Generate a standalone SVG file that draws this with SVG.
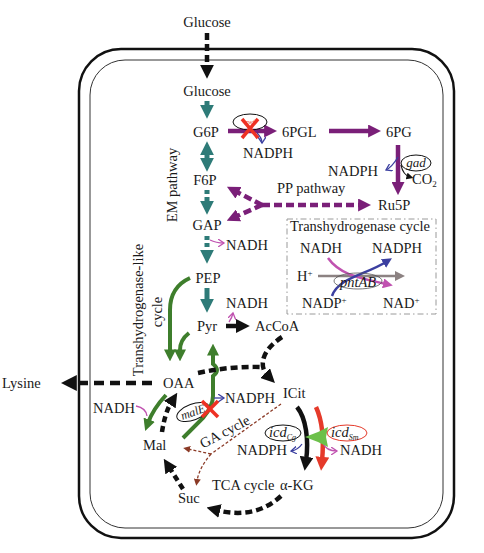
<svg xmlns="http://www.w3.org/2000/svg" width="484" height="553" viewBox="0 0 484 553">
<style>
text{font-family:"Liberation Serif","Times New Roman",serif;font-size:14.5px;fill:#1a1a1a}
.it{font-style:italic}
.mid{text-anchor:middle}
.teal{stroke:#2e7b78;stroke-width:5;fill:none}
.pur{stroke:#7a1f78;stroke-width:4.5;fill:none}
.blk{stroke:#111;stroke-width:4.5;fill:none}
.grn{stroke:#3e7e2c;stroke-width:4;fill:none}
.red{stroke:#e53a2a;stroke-width:4.5;fill:none}
.brn{stroke:#8b3a26;stroke-width:1.3;fill:none;stroke-dasharray:3,2}
.thin{stroke-width:1.3;fill:none}
.x{stroke:#ee3124;stroke-width:3.5;stroke-linecap:butt}
</style>
<defs>
<marker id="aTeal" viewBox="0 0 10 10" refX="3" refY="5" markerWidth="14" markerHeight="14" markerUnits="userSpaceOnUse" orient="auto-start-reverse"><path d="M0,0 L10,5 L0,10 z" fill="#2e7b78"/></marker>
<marker id="aPur" viewBox="0 0 10 10" refX="3" refY="5" markerWidth="13" markerHeight="13" markerUnits="userSpaceOnUse" orient="auto"><path d="M0,0 L10,5 L0,10 z" fill="#7a1f78"/></marker>
<marker id="aBlk" viewBox="0 0 10 10" refX="3" refY="5" markerWidth="14" markerHeight="14" markerUnits="userSpaceOnUse" orient="auto"><path d="M0,0 L10,5 L0,10 z" fill="#111"/></marker>
<marker id="aBlkL" viewBox="0 0 10 10" refX="3" refY="5" markerWidth="16" markerHeight="16" markerUnits="userSpaceOnUse" orient="auto"><path d="M0,0 L10,5 L0,10 z" fill="#111"/></marker>
<marker id="aGrn" viewBox="0 0 10 10" refX="3" refY="5" markerWidth="12" markerHeight="12" markerUnits="userSpaceOnUse" orient="auto"><path d="M0,0 L10,5 L0,10 z" fill="#3e7e2c"/></marker>
<marker id="aRed" viewBox="0 0 10 10" refX="3" refY="5" markerWidth="14" markerHeight="14" markerUnits="userSpaceOnUse" orient="auto"><path d="M0,0 L10,5 L0,10 z" fill="#e53a2a"/></marker>
<marker id="aBrn" viewBox="0 0 10 10" refX="3" refY="5" markerWidth="7" markerHeight="7" markerUnits="userSpaceOnUse" orient="auto"><path d="M0,0 L10,5 L0,10 z" fill="#8b3a26"/></marker>
<marker id="aGry" viewBox="0 0 10 10" refX="3" refY="5" markerWidth="10" markerHeight="10" markerUnits="userSpaceOnUse" orient="auto"><path d="M0,0 L10,5 L0,10 z" fill="#8c8282"/></marker>
<marker id="aPink" viewBox="0 0 10 10" refX="3" refY="5" markerWidth="10" markerHeight="10" markerUnits="userSpaceOnUse" orient="auto"><path d="M0,0 L10,5 L0,10 z" fill="#c052b0"/></marker>
<marker id="aBlu" viewBox="0 0 10 10" refX="3" refY="5" markerWidth="10" markerHeight="10" markerUnits="userSpaceOnUse" orient="auto"><path d="M0,0 L10,5 L0,10 z" fill="#3b3fa0"/></marker>
<marker id="aSmBlk" viewBox="0 0 10 10" refX="5" refY="5" markerWidth="7" markerHeight="7" markerUnits="userSpaceOnUse" orient="auto"><path d="M0,0 L10,5 L0,10 z" fill="#111"/></marker>
<marker id="oPink" viewBox="0 0 8 8" refX="6" refY="4" markerWidth="8" markerHeight="8" markerUnits="userSpaceOnUse" orient="auto"><path d="M0,0 L6,4 L0,8" fill="none" stroke="#c052b0" stroke-width="1.3"/></marker>
<marker id="oBlu" viewBox="0 0 8 8" refX="6" refY="4" markerWidth="8" markerHeight="8" markerUnits="userSpaceOnUse" orient="auto"><path d="M0,0 L6,4 L0,8" fill="none" stroke="#3b3fa0" stroke-width="1.3"/></marker>
</defs>
<rect width="484" height="553" fill="#fff"/>

<g id="cell">
<rect x="79" y="49" width="375" height="489" rx="42" fill="none" stroke="#111" stroke-width="2.5"/>
<rect x="90" y="60" width="353" height="468" rx="35" fill="none" stroke="#333" stroke-width="1"/>
</g>

<g id="connectors">
<line x1="207" y1="33" x2="207" y2="69" class="blk" stroke-width="5" stroke-dasharray="7,4" marker-end="url(#aBlk)"/>
<line x1="207" y1="101" x2="207" y2="109" class="teal" marker-end="url(#aTeal)"/>
<line x1="207" y1="151" x2="207" y2="162" class="teal" marker-start="url(#aTeal)" marker-end="url(#aTeal)"/>
<line x1="207" y1="190" x2="207" y2="205" class="teal" stroke-dasharray="4,3" marker-end="url(#aTeal)"/>
<line x1="207" y1="236" x2="207" y2="254" class="teal" stroke-dasharray="4,3" marker-end="url(#aTeal)"/>
<line x1="207" y1="288" x2="207" y2="303" class="teal" marker-end="url(#aTeal)"/>
<path d="M210,240 Q216,243 224,243" stroke="#c052b0" class="thin" marker-end="url(#oPink)"/>
<path d="M229,322 Q232,318 233,313" stroke="#c052b0" class="thin" marker-end="url(#oPink)"/>
<line x1="226" y1="326" x2="240" y2="326" class="blk" stroke-width="4" marker-end="url(#aBlk)"/>

<line x1="228" y1="131" x2="268" y2="131" class="pur" marker-end="url(#aPur)"/>
<line x1="329" y1="131" x2="372" y2="131" class="pur" marker-end="url(#aPur)"/>
<line x1="398" y1="145" x2="398" y2="186" class="pur" marker-end="url(#aPur)"/>
<path d="M257,133 Q262,138 262,143" stroke="#3b3fa0" class="thin" marker-end="url(#oBlu)"/>
<path d="M398,157 Q392,167 386,170" stroke="#3b3fa0" class="thin" marker-end="url(#oBlu)"/>
<path d="M401,165 Q403,175 410,177" stroke="#111" stroke-width="1.2" fill="none" marker-end="url(#aSmBlk)"/>

<line x1="262" y1="205" x2="362" y2="205" class="pur" stroke-width="4" stroke-dasharray="8,4" marker-end="url(#aPur)"/>
<line x1="262" y1="205" x2="235" y2="191" class="pur" stroke-width="4" stroke-dasharray="8,4" marker-end="url(#aPur)"/>
<line x1="262" y1="205" x2="235" y2="217" class="pur" stroke-width="4" stroke-dasharray="8,4" marker-end="url(#aPur)"/>

<path d="M190,278 Q170,287 170,310 L170,353" class="grn" marker-end="url(#aGrn)"/>
<path d="M189,333 Q180,340 180,350 L180,353" class="grn" marker-end="url(#aGrn)"/>
<path d="M166,395 Q153,409 148,423" class="grn" marker-end="url(#aGrn)"/>
<path d="M183,438 L203,418 Q213,406 213,396 L213,376 Q221,370 213,364 L213,352" class="grn" marker-end="url(#aGrn)"/>
<path d="M136,406 Q146,408 147,416" stroke="#c052b0" class="thin"/>
<line x1="214" y1="398" x2="224" y2="398" stroke="#3b3fa0" class="thin" marker-end="url(#oBlu)"/>

<line x1="152" y1="383" x2="72" y2="383" class="blk" stroke-width="5" stroke-dasharray="10,6" marker-end="url(#aBlkL)"/>
<path d="M162,432 Q165,412 172,401" class="blk" stroke-width="4.5" stroke-dasharray="6,4" marker-end="url(#aBlk)"/>
<path d="M198,373 Q230,366 262,367" class="blk" stroke-width="4.5" stroke-dasharray="7,4"/>
<path d="M282,337 C262,350 258,366 268,376" class="blk" stroke-width="4.5" stroke-dasharray="7,4" marker-end="url(#aBlk)"/>

<path d="M297,407 C306,418 309,440 306,461" class="blk" stroke-width="5" marker-end="url(#aBlk)"/>
<path d="M316,407 C322,420 324,440 322,461" class="red" marker-end="url(#aRed)"/>
<path d="M302,444 Q298,450 291,451" stroke="#3b3fa0" class="thin" marker-end="url(#oBlu)"/>
<path d="M323,443 Q326,451 337,451" stroke="#c052b0" class="thin" marker-end="url(#oPink)"/>

<path d="M281,496 Q255,520 216,510" class="blk" stroke-width="4.5" stroke-dasharray="7,4" marker-end="url(#aBlk)"/>
<path d="M183,489 L169,467" class="blk" stroke-width="4.5" stroke-dasharray="6,4" marker-end="url(#aBlk)"/>

<line x1="281" y1="404" x2="211" y2="454" class="brn"/>
<line x1="211" y1="454" x2="188" y2="449" class="brn" marker-end="url(#aBrn)"/>
<path d="M211,454 Q199,468 197,481" class="brn" marker-end="url(#aBrn)"/>
</g>

<g id="n-glucose-ext"><text x="207" y="27" class="mid">Glucose</text></g>
<g id="n-glucose"><text x="207" y="96" class="mid">Glucose</text></g>
<g id="n-g6p"><text x="206" y="137" class="mid">G6P</text></g>
<g id="n-zwf">
<ellipse cx="250" cy="122" rx="17" ry="8" fill="none" stroke="#111" stroke-width="1"/>
<text x="250" y="124" class="mid it" style="font-size:7px;fill:#e53a2a">zwf</text>
<line x1="242" y1="119" x2="258" y2="138" class="x"/>
<line x1="258" y1="119" x2="242" y2="138" class="x"/>
</g>
<g id="n-nadph1"><text x="243" y="158">NADPH</text></g>
<g id="n-6pgl"><text x="282" y="137">6PGL</text></g>
<g id="n-6pg"><text x="386" y="137">6PG</text></g>
<g id="n-nadph2"><text x="328" y="176">NADPH</text></g>
<g id="n-gad">
<ellipse cx="416" cy="163" rx="15" ry="8" fill="none" stroke="#111" stroke-width="1"/>
<text x="416" y="167" class="mid it" style="font-size:13px">gad</text>
</g>
<g id="n-co2"><text x="412" y="184">CO<tspan style="font-size:9px" dy="3">2</tspan></text></g>
<g id="n-ru5p"><text x="378" y="210">Ru5P</text></g>
<g id="n-pp"><text x="277" y="193">PP pathway</text></g>
<g id="n-f6p"><text x="205" y="185" class="mid">F6P</text></g>
<g id="n-gap"><text x="207" y="230" class="mid">GAP</text></g>
<g id="n-nadh1"><text x="226" y="250">NADH</text></g>
<g id="n-pep"><text x="208" y="283" class="mid">PEP</text></g>
<g id="n-nadh2"><text x="226" y="308">NADH</text></g>
<g id="n-pyr"><text x="207" y="331" class="mid">Pyr</text></g>
<g id="n-accoa"><text x="255" y="331">AcCoA</text></g>
<g id="n-em"><text transform="translate(177,185) rotate(-90)" class="mid">EM pathway</text></g>
<g id="n-thlike">
<text transform="translate(143,310) rotate(-90)" class="mid">Transhydrogenase-like</text>
<text transform="translate(162,312) rotate(-90)" class="mid">cycle</text>
</g>

<g id="n-thcycle">
<rect x="287" y="219" width="149" height="95" fill="none" stroke="#9a9a9a" stroke-width="1" stroke-dasharray="6,3,1.5,3"/>
<text x="290" y="231">Transhydrogenase cycle</text>
<text x="300" y="253">NADH</text>
<text x="372" y="253">NADPH</text>
<text x="297" y="281">H<tspan style="font-size:9px" dy="-5">+</tspan></text>
<text x="302" y="308">NADP<tspan style="font-size:9px" dy="-5">+</tspan></text>
<text x="383" y="308">NAD<tspan style="font-size:9px" dy="-5">+</tspan></text>
<line x1="318" y1="276" x2="398" y2="276" stroke="#8c8282" stroke-width="2.5" marker-end="url(#aGry)"/>
<path d="M328,258 C340,275 360,278 386,284" stroke="#c052b0" stroke-width="2.5" fill="none" marker-end="url(#aPink)"/>
<path d="M332,296 C338,278 365,275 386,262" stroke="#3b3fa0" stroke-width="2.5" fill="none" marker-end="url(#aBlu)"/>
<ellipse cx="358" cy="281" rx="24" ry="8" fill="none" stroke="#555" stroke-width="0.8"/>
<text x="358" y="287" class="mid it">pntAB</text>
</g>

<g id="n-oaa"><text x="163" y="388">OAA</text></g>
<g id="n-lysine"><text x="2" y="388">Lysine</text></g>
<g id="n-nadh3"><text x="93" y="413">NADH</text></g>
<g id="n-male">
<ellipse cx="193" cy="412" rx="17" ry="8" transform="rotate(-20 193 412)" fill="none" stroke="#111" stroke-width="1"/>
<text x="193" y="416" class="mid it" style="font-size:12px" transform="rotate(-20 193 412)">malE</text>
<line x1="202" y1="401" x2="218" y2="417" class="x"/>
<line x1="218" y1="401" x2="202" y2="417" class="x"/>
</g>
<g id="n-nadph3"><text x="225" y="403">NADPH</text></g>
<g id="n-icit"><text x="283" y="398">ICit</text></g>
<g id="n-ga"><text transform="translate(227,436) rotate(-28)" class="mid">GA cycle</text></g>
<g id="n-icdcg">
<ellipse cx="283" cy="433" rx="18" ry="8" fill="none" stroke="#111" stroke-width="1"/>
<text x="269" y="437" class="it">icd<tspan style="font-size:8px" dy="3">Cg</tspan></text>
</g>
<g id="n-icdsm">
<polygon points="305,437 318,432 328,427 326,437 328,447 318,442" fill="#6cc04a"/>
<ellipse cx="347" cy="433" rx="20" ry="8" fill="none" stroke="#e53a2a" stroke-width="1"/>
<text x="331" y="437" class="it">icd<tspan style="font-size:8px" dy="3">Sm</tspan></text>
</g>
<g id="n-nadph4"><text x="237" y="455">NADPH</text></g>
<g id="n-nadh4"><text x="340" y="455">NADH</text></g>
<g id="n-mal"><text x="143" y="450">Mal</text></g>
<g id="n-akg"><text x="212" y="490">TCA cycle</text><text x="280" y="490">α-KG</text></g>
<g id="n-suc"><text x="178" y="503">Suc</text></g>
</svg>
